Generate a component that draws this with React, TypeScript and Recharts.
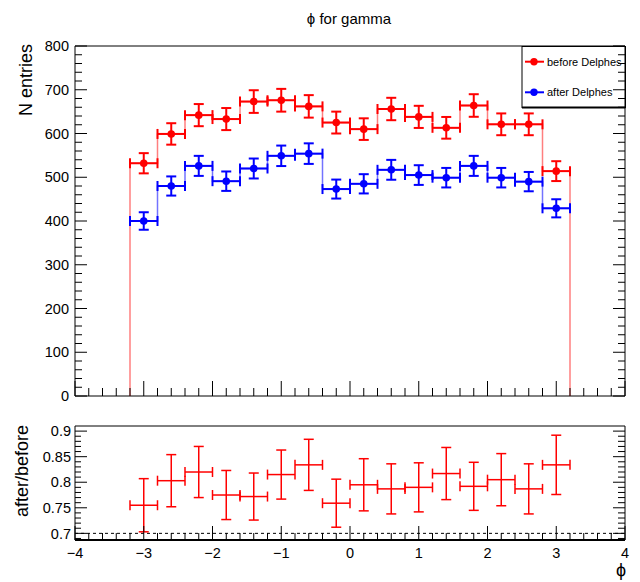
import React from 'react';
import { ComposedChart, Line, Scatter, ErrorBar, XAxis, YAxis, ReferenceArea, ReferenceLine } from 'recharts';

const FONT = "'Liberation Sans', Arial, Helvetica, sans-serif";

// ---- data ----
const BIN_CENTERS = [-3.0, -2.6, -2.2, -1.8, -1.4, -1.0, -0.6, -0.2, 0.2, 0.6, 1.0, 1.4, 1.8, 2.2, 2.6, 3.0];
const BIN_HALF_WIDTH = 0.2;
const BEFORE = [532, 599, 642, 633, 673, 676, 662, 625, 610, 656, 638, 613, 664, 621, 621, 514];
const BEFORE_ERR = [23.1, 24.5, 25.3, 25.2, 25.9, 26.0, 25.7, 25.0, 24.7, 25.6, 25.3, 24.8, 25.8, 24.9, 24.9, 22.7];
const AFTER = [400, 480, 526, 491, 520, 549, 554, 473, 485, 517, 505, 499, 526, 499, 490, 429];
const AFTER_ERR = [20.0, 21.9, 22.9, 22.2, 22.8, 23.4, 23.5, 21.7, 22.0, 22.7, 22.5, 22.3, 22.9, 22.3, 22.1, 20.7];
const RATIO = [0.755, 0.803, 0.820, 0.775, 0.772, 0.815, 0.834, 0.759, 0.795, 0.787, 0.790, 0.817, 0.792, 0.805, 0.787, 0.834];
const RATIO_ERR = [0.052, 0.051, 0.050, 0.048, 0.046, 0.048, 0.050, 0.047, 0.051, 0.049, 0.048, 0.051, 0.047, 0.051, 0.049, 0.058];

const X_TICKS = [-4, -3.8, -3.6, -3.4, -3.2, -3, -2.8, -2.6, -2.4, -2.2, -2, -1.8, -1.6, -1.4, -1.2, -1, -0.8, -0.6, -0.4, -0.2, 0,
  0.2, 0.4, 0.6, 0.8, 1, 1.2, 1.4, 1.6, 1.8, 2, 2.2, 2.4, 2.6, 2.8, 3, 3.2, 3.4, 3.6, 3.8, 4];
const Y_TICKS_TOP = [0, 20, 40, 60, 80, 100, 120, 140, 160, 180, 200, 220, 240, 260, 280, 300, 320, 340, 360, 380, 400,
  420, 440, 460, 480, 500, 520, 540, 560, 580, 600, 620, 640, 660, 680, 700, 720, 740, 760, 780, 800];
const Y_TICKS_RATIO = [0.69, 0.7, 0.71, 0.72, 0.73, 0.74, 0.75, 0.76, 0.77, 0.78, 0.79, 0.8, 0.81, 0.82, 0.83, 0.84, 0.85,
  0.86, 0.87, 0.88, 0.89, 0.9];
const X_DOMAIN = [-4, 4];
const Y_DOMAIN_TOP = [0, 800];
const Y_DOMAIN_RATIO = [0.687, 0.91];

const TITLE = 'ϕ for gamma';
const Y_TITLE_TOP = 'N entries';
const Y_TITLE_RATIO = 'after/before';
const X_TITLE = 'ϕ';
const LEGEND_LABELS = ['before Delphes', 'after Delphes'];

const RED = '#ff0000';
const BLUE = '#0000ff';

// ---- layout ----
const W = 640;
const PLOT_LEFT = 75;
const PLOT_W = 550;
const TOP_H = 410;
const TOP_MARGIN = { top: 46, right: W - PLOT_LEFT - PLOT_W, bottom: 4, left: 15 };
const TOP_PLOT_BOTTOM = 396;
const BOT_TOP = 410;
const BOT_H = 172;
const BOT_MARGIN = { top: 16, right: W - PLOT_LEFT - PLOT_W, bottom: 12, left: 15 };
const BOT_PLOT_BOTTOM = 130;

function points(values: number[], errs: number[]) {
  return BIN_CENTERS.map((c, i) => ({ x: c, y: values[i], ex: BIN_HALF_WIDTH, ey: errs[i] }));
}
function stepPoints(values: number[], dropToZero: boolean) {
  const pts: { x: number; y: number }[] = [];
  const n = BIN_CENTERS.length;
  if (dropToZero) pts.push({ x: BIN_CENTERS[0] - BIN_HALF_WIDTH, y: 0 });
  BIN_CENTERS.forEach((c, i) => {
    pts.push({ x: c - BIN_HALF_WIDTH, y: values[i] });
    pts.push({ x: c + BIN_HALF_WIDTH, y: values[i] });
  });
  if (dropToZero) pts.push({ x: BIN_CENTERS[n - 1] + BIN_HALF_WIDTH, y: 0 });
  return pts;
}

const beforePts = points(BEFORE, BEFORE_ERR);
const afterPts = points(AFTER, AFTER_ERR);
const ratioPts = points(RATIO, RATIO_ERR);
const beforeStep = stepPoints(BEFORE, true);
const afterStep = stepPoints(AFTER, false);

const isInt = (v: number) => Math.abs(v - Math.round(v)) < 1e-6;

function TopYTick(props: any) {
  const { y, payload } = props;
  const v = payload.value;
  const major = Math.abs(v % 100) < 1e-6;
  const len = major ? 12 : 7;
  const r = PLOT_LEFT + PLOT_W;
  return (
    <g>
      <line x1={PLOT_LEFT} y1={y} x2={PLOT_LEFT + len} y2={y} stroke="#000" strokeWidth={1} />
      <line x1={r - len} y1={y} x2={r} y2={y} stroke="#000" strokeWidth={1} />
      {major && (
        <text x={PLOT_LEFT - 6} y={y} dy="0.36em" textAnchor="end" fontSize={14.5} fontFamily={FONT} fill="#000">
          {v}
        </text>
      )}
    </g>
  );
}
function TopXTick(props: any) {
  const { x, payload } = props;
  const v = payload.value;
  const len = isInt(v) ? 15 : 8;
  return <line x1={x} y1={TOP_PLOT_BOTTOM} x2={x} y2={TOP_PLOT_BOTTOM - len} stroke="#000" strokeWidth={1} />;
}
function RatioYTick(props: any) {
  const { y, payload } = props;
  const v = payload.value;
  const major = Math.abs(v * 20 - Math.round(v * 20)) < 1e-6;
  const len = major ? 12 : 6;
  const r = PLOT_LEFT + PLOT_W;
  return (
    <g>
      <line x1={PLOT_LEFT} y1={y} x2={PLOT_LEFT + len} y2={y} stroke="#000" strokeWidth={1} />
      <line x1={r - (major ? 12 : 7)} y1={y} x2={r} y2={y} stroke="#000" strokeWidth={1} />
      {major && (
        <text x={PLOT_LEFT - 4} y={y} dy="0.36em" textAnchor="end" fontSize={14.5} fontFamily={FONT} fill="#000">
          {String(v)}
        </text>
      )}
    </g>
  );
}
function RatioXTick(props: any) {
  const { x, payload } = props;
  const v = payload.value;
  const major = isInt(v);
  const len = major ? 14 : 7;
  const label = v < 0 ? '\u2212' + Math.abs(v) : String(v);
  return (
    <g>
      <line x1={x} y1={BOT_PLOT_BOTTOM} x2={x} y2={BOT_PLOT_BOTTOM - len} stroke="#000" strokeWidth={1} />
      {major && (
        <text x={x} y={BOT_PLOT_BOTTOM + 18} textAnchor="middle" fontSize={14.5} fontFamily={FONT} fill="#000">
          {label}
        </text>
      )}
    </g>
  );
}

const dotShape = (color: string) => (p: any) => <circle cx={p.cx} cy={p.cy} r={3.8} fill={color} />;
const noShape = () => <g />;

export default function App() {
  return (
    <div style={{ position: 'absolute', left: 0, top: 0, width: W, height: 582, background: '#fff' }}>
      <div style={{ position: 'absolute', left: 0, top: 0 }}>
        <ComposedChart width={W} height={TOP_H} margin={TOP_MARGIN}>
          <XAxis type="number" dataKey="x" domain={X_DOMAIN} ticks={X_TICKS} interval={0} allowDataOverflow
            tickLine={false} axisLine={false} tickSize={0} tickMargin={0} height={10} tick={TopXTick} />
          <YAxis type="number" dataKey="y" domain={Y_DOMAIN_TOP} ticks={Y_TICKS_TOP} interval={0} allowDataOverflow
            tickLine={false} axisLine={false} tickSize={0} tickMargin={0} width={60} tick={TopYTick} />
          <ReferenceArea x1={X_DOMAIN[0]} x2={X_DOMAIN[1]} y1={Y_DOMAIN_TOP[0]} y2={Y_DOMAIN_TOP[1]}
            fill="none" fillOpacity={0} stroke="#000" strokeWidth={1} />
          <Line data={afterStep} dataKey="y" type="linear" stroke={BLUE} strokeOpacity={0.55} strokeWidth={1.5}
            dot={false} isAnimationActive={false} />
          <Line data={beforeStep} dataKey="y" type="linear" stroke={RED} strokeOpacity={0.5} strokeWidth={1.5}
            dot={false} isAnimationActive={false} />
          <Scatter data={beforePts} dataKey="y" shape={dotShape(RED)} isAnimationActive={false}>
            <ErrorBar dataKey="ey" direction="y" stroke={RED} strokeWidth={2} width={5} />
            <ErrorBar dataKey="ex" direction="x" stroke={RED} strokeWidth={2} width={5} />
          </Scatter>
          <Scatter data={afterPts} dataKey="y" shape={dotShape(BLUE)} isAnimationActive={false}>
            <ErrorBar dataKey="ey" direction="y" stroke={BLUE} strokeWidth={2} width={5} />
            <ErrorBar dataKey="ex" direction="x" stroke={BLUE} strokeWidth={2} width={5} />
          </Scatter>
        </ComposedChart>
      </div>
      <div style={{ position: 'absolute', left: 0, top: BOT_TOP }}>
        <ComposedChart width={W} height={BOT_H} margin={BOT_MARGIN}>
          <XAxis type="number" dataKey="x" domain={X_DOMAIN} ticks={X_TICKS} interval={0} allowDataOverflow
            tickLine={false} axisLine={{ stroke: '#000', strokeWidth: 2 }} tickSize={0} tickMargin={0} height={30}
            tick={RatioXTick} />
          <YAxis type="number" dataKey="y" domain={Y_DOMAIN_RATIO} ticks={Y_TICKS_RATIO} interval={0} allowDataOverflow
            tickLine={false} axisLine={false} tickSize={0} tickMargin={0} width={60} tick={RatioYTick} />
          <ReferenceArea x1={X_DOMAIN[0]} x2={X_DOMAIN[1]} y1={Y_DOMAIN_RATIO[0]} y2={Y_DOMAIN_RATIO[1]}
            fill="none" fillOpacity={0} stroke="#000" strokeWidth={1} />
          <ReferenceLine y={0.7} stroke="#000" strokeWidth={1} strokeDasharray="3 3" />
          <Scatter data={ratioPts} dataKey="y" shape={noShape} isAnimationActive={false}>
            <ErrorBar dataKey="ey" direction="y" stroke={RED} strokeWidth={1.5} width={5} />
            <ErrorBar dataKey="ex" direction="x" stroke={RED} strokeWidth={1.5} width={5} />
          </Scatter>
        </ComposedChart>
      </div>
      <svg width={W} height={582} style={{ position: 'absolute', left: 0, top: 0, pointerEvents: 'none' }}>
        <text x={349} y={24} textAnchor="middle" fontSize={15} fontFamily={FONT} fill="#000">{TITLE}</text>
        <text transform="translate(32,44) rotate(-90)" textAnchor="end" fontSize={18} fontFamily={FONT} fill="#000">
          {Y_TITLE_TOP}
        </text>
        <text transform="translate(28,425) rotate(-90)" textAnchor="end" fontSize={18} fontFamily={FONT} fill="#000">
          {Y_TITLE_RATIO}
        </text>
        <text x={626} y={576} textAnchor="end" fontSize={18} fontFamily={FONT} fill="#000">{X_TITLE}</text>
        {/* legend */}
        <rect x={522} y={46.5} width={103.5} height={61} fill="none" stroke="#000" strokeWidth={1} />
        <line x1={522} y1={107.5} x2={625.5} y2={107.5} stroke="#000" strokeWidth={2} />
        {LEGEND_LABELS.map((lab, i) => {
          const cy = i === 0 ? 61.7 : 92.3;
          const col = i === 0 ? RED : BLUE;
          return (
            <g key={lab}>
              <line x1={525} y1={cy} x2={544} y2={cy} stroke={col} strokeWidth={2} />
              <circle cx={534} cy={cy} r={3.7} fill={col} />
              <text x={547} y={cy} dy="0.36em" fontSize={11} fontFamily={FONT} fill="#000">{lab}</text>
            </g>
          );
        })}
      </svg>
    </div>
  );
}
